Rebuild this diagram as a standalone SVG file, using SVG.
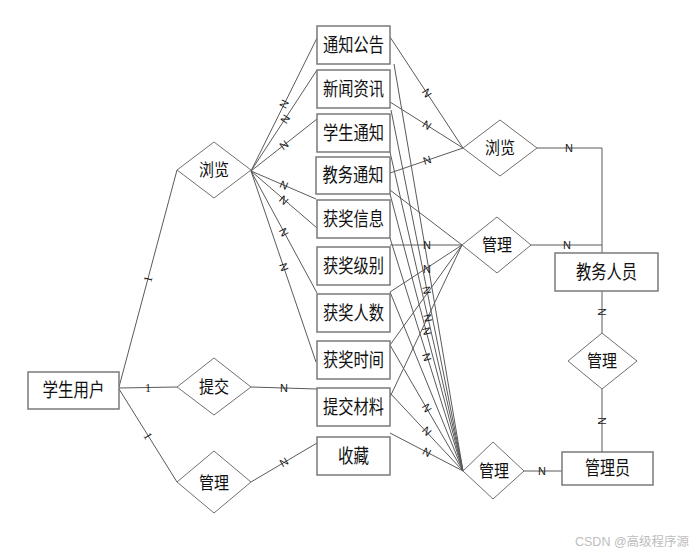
<svg xmlns="http://www.w3.org/2000/svg" width="691" height="556" viewBox="0 0 691 556">
<style>
.bx{fill:#fff;stroke:#7a7a7a;stroke-width:1.5}
.dm{fill:#fff;stroke:#707070;stroke-width:1}
.ln{fill:none;stroke:#5a5a5a;stroke-width:1}
.t{font-family:"Liberation Serif","Noto Sans CJK SC",serif;font-size:19px;fill:#111;text-anchor:middle;dominant-baseline:central}
.td{font-family:"Liberation Serif","Noto Sans CJK SC",serif;font-size:17px;fill:#111;text-anchor:middle;dominant-baseline:central}
.lb{font-family:"Liberation Sans",sans-serif;font-size:11px;fill:#1a1a1a;text-anchor:middle;dominant-baseline:central}
.lbs{font-family:"Liberation Serif",serif;font-size:12px;fill:#1a1a1a;text-anchor:middle;dominant-baseline:central}
.wm{font-family:"Liberation Sans","Noto Sans CJK SC",sans-serif;font-size:12.5px;fill:#bdbdbd}
</style>
<rect width="691" height="556" fill="#fff"/>
<g id="connectors">
<line class="ln" x1="119" y1="387" x2="177" y2="170"/>
<line class="ln" x1="119" y1="388" x2="177" y2="387"/>
<line class="ln" x1="119" y1="389" x2="177" y2="482"/>
<line class="ln" x1="251" y1="387" x2="317" y2="389"/>
<line class="ln" x1="251" y1="482" x2="317" y2="443"/>
<line class="ln" x1="251" y1="171" x2="317" y2="38"/>
<line class="ln" x1="251" y1="171" x2="317" y2="70"/>
<line class="ln" x1="251" y1="171" x2="317" y2="119"/>
<line class="ln" x1="251" y1="171" x2="316" y2="199"/>
<line class="ln" x1="251" y1="171" x2="317" y2="228"/>
<line class="ln" x1="251" y1="171" x2="317" y2="293"/>
<line class="ln" x1="251" y1="171" x2="316" y2="362"/>
<line class="ln" x1="390" y1="37" x2="463" y2="148"/>
<line class="ln" x1="390" y1="102" x2="463" y2="148"/>
<line class="ln" x1="390" y1="173" x2="463" y2="148"/>
<line class="ln" x1="390" y1="190" x2="462" y2="245"/>
<line class="ln" x1="390" y1="245" x2="462" y2="245"/>
<line class="ln" x1="390" y1="292" x2="462" y2="245"/>
<line class="ln" x1="390" y1="345" x2="462" y2="245"/>
<line class="ln" x1="390" y1="397" x2="462" y2="245"/>
<line class="ln" x1="394" y1="64" x2="463" y2="471"/>
<line class="ln" x1="391" y1="110" x2="463" y2="471"/>
<line class="ln" x1="390" y1="152" x2="463" y2="471"/>
<line class="ln" x1="390" y1="194" x2="463" y2="471"/>
<line class="ln" x1="390" y1="238" x2="463" y2="471"/>
<line class="ln" x1="390" y1="292" x2="463" y2="471"/>
<line class="ln" x1="390" y1="345" x2="463" y2="471"/>
<line class="ln" x1="390" y1="393" x2="463" y2="471"/>
<line class="ln" x1="390" y1="433" x2="463" y2="471"/>
<polyline class="ln" points="537,148 602,148 602,253"/>
<line class="ln" x1="531" y1="245" x2="602" y2="245"/>
<line class="ln" x1="602" y1="291" x2="602" y2="333"/>
<line class="ln" x1="602" y1="389" x2="602" y2="452"/>
<line class="ln" x1="524" y1="471" x2="562" y2="471"/>
<text class="lbs" x="148" y="279" transform="rotate(-75 148 279)">1</text>
<text class="lbs" x="148" y="388">1</text>
<text class="lbs" x="148" y="436" transform="rotate(58 148 436)">1</text>
<text class="lb" x="284" y="388">N</text>
<text class="lb" x="284" y="462" transform="rotate(-30.6 284 462)">N</text>
<text class="lb" x="284" y="104" transform="rotate(-63.6 284 104)">N</text>
<text class="lb" x="285" y="119" transform="rotate(-56.8 285 119)">N</text>
<text class="lb" x="284" y="145" transform="rotate(-38.2 284 145)">N</text>
<text class="lb" x="284" y="185" transform="rotate(23.3 284 185)">N</text>
<text class="lb" x="284" y="200" transform="rotate(40.8 284 200)">N</text>
<text class="lb" x="284" y="232" transform="rotate(61.6 284 232)">N</text>
<text class="lb" x="284" y="267" transform="rotate(71.2 284 267)">N</text>
<text class="lb" x="427" y="93" transform="rotate(56.7 427 93)">N</text>
<text class="lb" x="427" y="125" transform="rotate(32.2 427 125)">N</text>
<text class="lb" x="427" y="160" transform="rotate(-17.5 427 160)">N</text>
<text class="lb" x="427" y="245">N</text>
<text class="lb" x="427" y="269">N</text>
<text class="lb" x="427" y="290" transform="rotate(78.7 427 290)">N</text>
<text class="lb" x="428" y="318" transform="rotate(77.1 428 318)">N</text>
<text class="lb" x="427" y="331" transform="rotate(75.2 427 331)">N</text>
<text class="lb" x="427" y="357" transform="rotate(72.6 427 357)">N</text>
<text class="lb" x="427" y="408" transform="rotate(59.9 427 408)">N</text>
<text class="lb" x="427" y="431" transform="rotate(45.4 427 431)">N</text>
<text class="lb" x="427" y="452" transform="rotate(27.5 427 452)">N</text>
<text class="lb" x="569" y="148">N</text>
<text class="lb" x="567" y="245">N</text>
<text class="lb" x="602" y="312" transform="rotate(90 602 312)">N</text>
<text class="lb" x="602" y="421" transform="rotate(90 602 421)">N</text>
<text class="lb" x="542" y="471">N</text>
</g>
<g id="student"><rect class="bx" x="28" y="372" width="91" height="37"/><text class="t" x="73.5" y="390.5" textLength="62" lengthAdjust="spacingAndGlyphs">学生用户</text></g>
<g id="notice"><rect class="bx" x="317" y="26" width="73" height="38"/><text class="t" x="353.5" y="45" textLength="61" lengthAdjust="spacingAndGlyphs">通知公告</text></g>
<g id="news"><rect class="bx" x="317" y="70" width="73" height="38"/><text class="t" x="353.5" y="89" textLength="61" lengthAdjust="spacingAndGlyphs">新闻资讯</text></g>
<g id="studentNotice"><rect class="bx" x="317" y="114" width="73" height="38"/><text class="t" x="353.5" y="133" textLength="61" lengthAdjust="spacingAndGlyphs">学生通知</text></g>
<g id="academicNotice"><rect class="bx" x="316" y="157" width="74" height="37"/><text class="t" x="353" y="175.5" textLength="61" lengthAdjust="spacingAndGlyphs">教务通知</text></g>
<g id="awardInfo"><rect class="bx" x="317" y="200" width="73" height="38"/><text class="t" x="353.5" y="219" textLength="61" lengthAdjust="spacingAndGlyphs">获奖信息</text></g>
<g id="awardLevel"><rect class="bx" x="317" y="247" width="73" height="38"/><text class="t" x="353.5" y="266" textLength="61" lengthAdjust="spacingAndGlyphs">获奖级别</text></g>
<g id="awardCount"><rect class="bx" x="317" y="294" width="73" height="38"/><text class="t" x="353.5" y="313" textLength="61" lengthAdjust="spacingAndGlyphs">获奖人数</text></g>
<g id="awardTime"><rect class="bx" x="317" y="341" width="73" height="38"/><text class="t" x="353.5" y="360" textLength="61" lengthAdjust="spacingAndGlyphs">获奖时间</text></g>
<g id="material"><rect class="bx" x="317" y="388" width="73" height="38"/><text class="t" x="353.5" y="407" textLength="61" lengthAdjust="spacingAndGlyphs">提交材料</text></g>
<g id="favorite"><rect class="bx" x="317" y="437" width="73" height="38"/><text class="t" x="353.5" y="456" textLength="31" lengthAdjust="spacingAndGlyphs">收藏</text></g>
<g id="staff"><rect class="bx" x="555" y="253" width="103" height="38"/><text class="t" x="606.5" y="272" textLength="61" lengthAdjust="spacingAndGlyphs">教务人员</text></g>
<g id="admin"><rect class="bx" x="562" y="452" width="91" height="33"/><text class="t" x="607.5" y="468.5" textLength="45" lengthAdjust="spacingAndGlyphs">管理员</text></g>
<g id="browseL"><polygon class="dm" points="177,170 214,142 251,170 214,198"/><text class="td" x="214" y="170" textLength="30" lengthAdjust="spacingAndGlyphs">浏览</text></g>
<g id="submit"><polygon class="dm" points="177,387 214,358 251,387 214,415"/><text class="td" x="214" y="387" textLength="30" lengthAdjust="spacingAndGlyphs">提交</text></g>
<g id="manageL"><polygon class="dm" points="177,482 214,451 251,482 214,513"/><text class="td" x="214" y="483" textLength="30" lengthAdjust="spacingAndGlyphs">管理</text></g>
<g id="browseR"><polygon class="dm" points="463,148 500,120 537,148 500,176"/><text class="td" x="500" y="148" textLength="30" lengthAdjust="spacingAndGlyphs">浏览</text></g>
<g id="manageM"><polygon class="dm" points="462,245 497,217 531,245 497,273"/><text class="td" x="497" y="245" textLength="30" lengthAdjust="spacingAndGlyphs">管理</text></g>
<g id="manageB"><polygon class="dm" points="463,471 493,442 524,471 493,499"/><text class="td" x="494" y="471" textLength="30" lengthAdjust="spacingAndGlyphs">管理</text></g>
<g id="manageS"><polygon class="dm" points="568,361 602,333 637,361 602,389"/><text class="td" x="602" y="361" textLength="30" lengthAdjust="spacingAndGlyphs">管理</text></g>
<text class="wm" x="575" y="546">CSDN @高级程序源</text>
</svg>
